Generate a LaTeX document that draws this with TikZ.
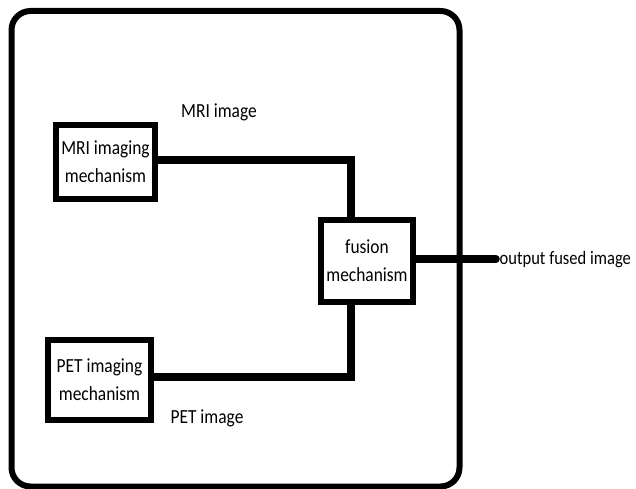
\documentclass[tikz,border=0pt]{standalone}
\usepackage{fontspec}
\setmainfont{Carlito}[FakeStretch=0.87]
\usepackage{tikz}
\usetikzlibrary{calc,positioning}

\begin{document}
\begin{tikzpicture}[x=1pt, y=-1pt, line join=miter,
    font=\fontsize{20}{28}\selectfont,
    blockbox/.style={draw, line width=6pt, align=center, inner sep=0pt},
    wire/.style={line width=7.5pt}]
  \path[use as bounding box] (0,0) rectangle (636,489);

  % Outer frame
  \draw[line width=6pt, rounded corners=19pt] (11.5,11) rectangle (459.5,486.5);

  % Blocks
  \node[blockbox, minimum width=99pt, minimum height=74pt] (mri) at (105.5,162) {MRI imaging\\mechanism};
  \node[blockbox, minimum width=103pt, minimum height=80pt] (pet) at (99.5,380) {PET imaging\\mechanism};
  \node[blockbox, minimum width=92pt, minimum height=82pt] (fusion) at (367,261) {fusion\\mechanism};
  \coordinate (out) at (496,259);

  % Connectors
  \draw[wire] ([yshift=2pt]mri.east) -| ([xshift=-16pt]fusion.north);
  \draw[wire] ([yshift=3pt]pet.east) -| ([xshift=-16pt]fusion.south);
  \draw[wire, line cap=round] (fusion.east |- out) -- (out);

  % Labels
  \node (mrilabel) at (219,112) {MRI image};
  \node (petlabel) at (207,418) {PET image};
  \node[anchor=west, inner sep=0.5pt, font=\fontsize{19}{28}\selectfont] (outlabel) at ([xshift=3pt,yshift=-1pt]out) {output fused image};

\end{tikzpicture}
\end{document}
